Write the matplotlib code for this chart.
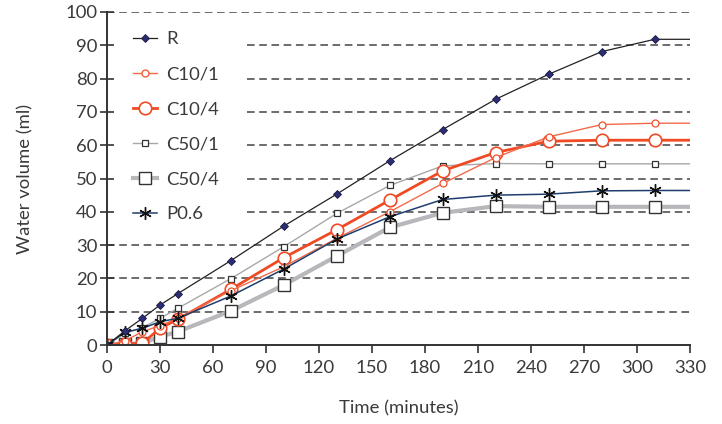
import matplotlib
matplotlib.use("Agg")
import matplotlib.pyplot as plt

plt.rcParams['font.family'] = ['Lato', 'DejaVu Sans']

times = [0, 10, 20, 30, 40, 70, 100, 130, 160, 190, 220, 250, 280, 310, 330]
series = {
    "R":     [0, 4.2, 8.0, 12.0, 15.4, 25.3, 35.7, 45.3, 55.3, 64.7, 73.8, 81.3, 88.1, 91.8, 91.8],
    "C10/1": [0, 1.2, 4.0, 5.8, 8.0, 16.3, 23.5, 32.0, 40.0, 48.5, 56.3, 62.5, 66.2, 66.6, 66.6],
    "C10/4": [0, 0.3, 0.5, 5.0, 7.7, 16.7, 26.2, 34.6, 43.5, 52.3, 57.8, 61.2, 61.5, 61.5, 61.5],
    "C50/1": [0, 3.5, 5.2, 8.0, 11.0, 19.9, 29.5, 39.5, 47.9, 53.8, 54.5, 54.4, 54.4, 54.4, 54.4],
    "C50/4": [0, 0.3, 0.5, 2.5, 4.0, 10.2, 18.0, 26.7, 35.3, 39.7, 41.7, 41.5, 41.5, 41.5, 41.5],
    "P0.6":  [0, 3.8, 5.0, 7.0, 8.0, 14.7, 22.8, 31.8, 38.5, 43.7, 45.0, 45.3, 46.3, 46.4, 46.4],
}
xticks = list(range(0, 331, 30))
yticks = list(range(0, 101, 10))
legend_rows = [40, 50, 60, 70, 80, 90]  # grid rows partly hidden behind the legend

styles = {
    "R":     dict(color="#222222", lw=0.9, marker="D", ms=4, mfc="#2b2d75", mec="#1a1a40", mew=0.6, zorder=8),
    "C10/1": dict(color="#f26a4a", lw=1.0, marker="o", ms=5, mfc="white", mec="#f0502a", mew=0.9, zorder=6),
    "C10/4": dict(color="#f04a24", lw=2.0, marker="o", ms=9, mfc="white", mec="#f04a24", mew=1.2, zorder=5),
    "C50/1": dict(color="#a8a8a8", lw=1.0, marker="s", ms=5, mfc="white", mec="#333333", mew=0.9, zorder=4),
    "C50/4": dict(color="#b8b8bc", lw=3.0, marker="s", ms=8.5, mfc="white", mec="#333333", mew=1.0, zorder=3),
    "P0.6":  dict(color="#1e3f6e", lw=1.1, marker=(6, 2, 0), ms=9, mfc="#111111", mec="#111111", mew=1.0, zorder=7),
}

fig = plt.figure(figsize=(7.22, 4.24), dpi=100)
ax = fig.add_axes([0.1482, 0.1863, 0.8075, 0.7854])

for y in yticks[1:]:
    xmin = 0.24 if y in legend_rows else 0.0
    ax.axhline(y, xmin=xmin, color="#444444", lw=1.1, ls=(0, (5, 3)), zorder=1)

n = len(times)
for name, vals in series.items():
    ax.plot(times, vals, label=name, markevery=list(range(n - 1)), **styles[name])

TXT = "#3a3a3a"
ax.set_xlim(0, 330)
ax.set_ylim(0, 100)
ax.set_xticks(xticks)
ax.set_yticks(yticks)
for s in ["top", "right"]:
    ax.spines[s].set_visible(False)
for s in ["left", "bottom"]:
    ax.spines[s].set_color("#333333")
    ax.spines[s].set_linewidth(1.4)
    ax.spines[s].set_zorder(10)
ax.tick_params(axis="x", direction="out", length=6, width=1.2, colors="#333333", labelsize=13.3, pad=5)
ax.tick_params(axis="y", direction="inout", length=10, width=1.2, colors="#333333", labelsize=13.3, pad=2)
for lab in ax.get_xticklabels() + ax.get_yticklabels():
    lab.set_color(TXT)
ax.set_xlabel("Time (minutes)", fontsize=13.3, color=TXT, labelpad=17)
ax.set_ylabel("Water volume (ml)", fontsize=13.3, color=TXT, labelpad=23)

leg = ax.legend(loc="upper left", bbox_to_anchor=(0.0446, 0.943), frameon=False,
                handlelength=1.3, labelspacing=1.03, borderpad=0.0, borderaxespad=0.0,
                handletextpad=0.5, prop={"size": 13.3})
for t in leg.get_texts():
    t.set_color(TXT)

fig.savefig("out.png", dpi=100)
